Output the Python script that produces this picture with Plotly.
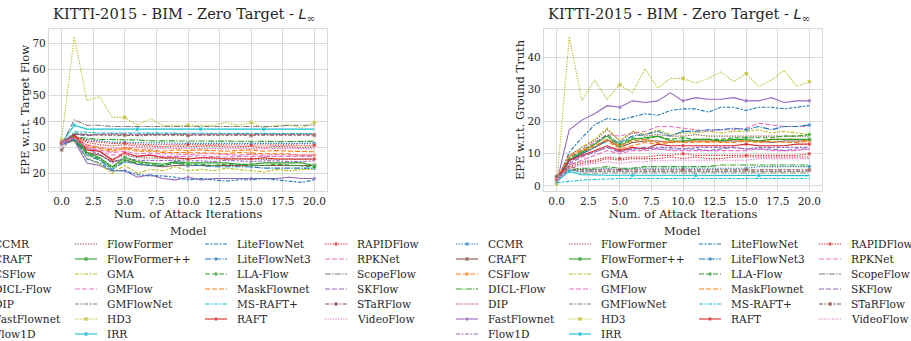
import plotly.graph_objects as go

iterations = list(range(21))

models = ["CCMR", "CRAFT", "CSFlow", "DICL-Flow", "DIP", "FastFlownet", "Flow1D",
          "FlowFormer", "FlowFormer++", "GMA", "GMFlow", "GMFlowNet", "HD3", "IRR",
          "LiteFlowNet", "LiteFlowNet3", "LLA-Flow", "MaskFlownet", "MS-RAFT+", "RAFT",
          "RAPIDFlow", "RPKNet", "ScopeFlow", "SKFlow", "STaRFlow", "VideoFlow"]

# EPE w.r.t. target flow (left panel)
epe_target = {
    "CCMR":        [31, 33.5, 33, 32.5, 32, 32, 31.8, 31.7, 31.7, 31.5, 31.5, 31.5, 31.5, 31.5, 31.5, 31.5, 31.5, 31.5, 31.5, 31.5, 31.5],
    "CRAFT":       [31.5, 33, 28, 27, 24.5, 25.5, 23.5, 23, 22.5, 23, 23, 23, 23, 23, 23, 23, 23, 23, 22.8, 22.8, 23],
    "CSFlow":      [32, 34.5, 30.5, 29.5, 28.5, 29.5, 28.5, 28.5, 28, 28, 28, 27.8, 27.8, 27.5, 28, 27.8, 27.5, 27.5, 27.5, 27, 27],
    "DICL-Flow":   [31.5, 34, 33.5, 33, 33, 33, 32.8, 32.5, 32.5, 32.5, 32.5, 32.3, 32.5, 32.5, 32.3, 32.3, 32.3, 32.2, 32.3, 32.2, 32.3],
    "DIP":         [32, 34.5, 32, 31, 30.5, 31, 30.5, 30.5, 30.2, 30.5, 30.3, 30.3, 30.5, 30.2, 30.3, 30.3, 30, 30.3, 30.2, 30, 30.2],
    "FastFlownet": [31, 32.5, 24, 23, 21, 21, 18.5, 19.5, 18, 17.5, 18.5, 17.5, 18, 18, 18, 18, 18, 18, 18.5, 18, 18],
    "Flow1D":      [31.5, 33.5, 29, 27.5, 24, 26, 25, 25, 24.8, 25, 25, 24.8, 24.5, 25, 24.8, 24.5, 24.8, 24.8, 24.5, 24.5, 24.8],
    "FlowFormer":  [32, 34, 29.5, 28.5, 25.5, 27, 26, 26, 25.8, 25.5, 25.5, 26, 25.5, 25.5, 25.8, 25.5, 25.3, 25.5, 25.3, 25.3, 25.5],
    "FlowFormer++":[32, 34.5, 28, 26, 22.5, 26, 24.5, 24, 23.5, 24.5, 24, 24, 24, 24, 23.5, 23.5, 24, 24, 24, 24, 23],
    "GMA":         [31.5, 32.5, 26, 23.5, 20, 23, 20, 21.5, 21, 22.5, 21, 21.5, 21, 22, 21.5, 21, 20.5, 21.5, 21, 21.5, 21.5],
    "GMFlow":      [31.5, 34, 30, 28.5, 27, 27.5, 26.5, 27, 26.5, 26.5, 26.5, 26.8, 26.5, 26.2, 26.5, 26.5, 26.3, 26.5, 26.3, 26.5, 26.5],
    "GMFlowNet":   [31, 35.5, 35, 35, 35, 35, 35, 35, 35, 35, 35, 35, 35, 35, 35, 35, 35, 35, 35, 35, 35.2],
    "HD3":         [33, 72.5, 48, 49.5, 41.5, 41.5, 38.5, 41, 38.5, 38.5, 38.5, 38.5, 38.5, 39.5, 38.5, 39.5, 37.5, 38.5, 38.5, 37.5, 39.5],
    "IRR":         [31.5, 38.5, 37, 37, 37, 37, 37, 37, 37, 37, 37, 37, 37, 37, 37, 37, 37, 37, 37, 37, 37],
    "LiteFlowNet": [31, 33, 25.5, 24, 21, 21, 19.5, 19, 19, 18.5, 17.5, 18, 17.5, 17, 17.5, 17.5, 18, 17.5, 17, 16.5, 17.5],
    "LiteFlowNet3":[31.5, 33, 27, 25, 21.5, 24.5, 23.5, 23, 23, 24, 23, 23, 22.5, 22.5, 22.5, 22.5, 22, 22, 22, 22, 22],
    "LLA-Flow":    [32, 33.5, 27.5, 25.5, 22, 25, 24, 23.5, 23, 24, 23.5, 23.5, 23, 23.5, 23.5, 23.2, 23, 23.5, 23.2, 23, 22.5],
    "MaskFlownet": [32, 34, 31, 30, 29, 30, 29, 29, 28.5, 29, 28.8, 29, 28.8, 28.5, 28.8, 29, 28.5, 28.8, 28.5, 28.5, 28.3],
    "MS-RAFT+":    [31, 36, 35.8, 35.5, 35.5, 35.5, 35.5, 35.5, 35.5, 35.5, 35.5, 35.3, 35.5, 35.5, 35.5, 35.5, 35.5, 35.5, 35.3, 35.5, 35.3],
    "RAFT":        [32, 35, 29, 28.5, 25, 28, 26.5, 27, 26, 26, 25.5, 26, 26, 25.5, 25.5, 25.5, 26, 25.5, 25.5, 25.5, 25.5],
    "RAPIDFlow":   [31.5, 34, 32.5, 32, 31.5, 31.5, 31.2, 31, 31, 31, 31, 31, 30.8, 31, 31, 30.8, 31, 31, 30.8, 31, 30.8],
    "RPKNet":      [32, 33.5, 30, 29, 28, 28.5, 27.5, 27.8, 27.5, 27.5, 27.2, 27.5, 27.5, 27.2, 27, 27.3, 27, 27.2, 27, 27, 27],
    "ScopeFlow":   [31, 40.5, 38.5, 38.5, 38, 38, 38, 38, 38, 38, 38, 38, 38, 38, 38, 38, 38, 38, 38.5, 38.5, 38.5],
    "SKFlow":      [31.5, 35, 34.5, 35, 35.2, 35, 35, 35, 35, 35, 35, 35, 35, 35, 35, 35, 35, 35, 35, 35, 35],
    "STaRFlow":    [29, 35, 34.8, 34.7, 34.7, 34.7, 34.5, 34.7, 34.7, 34.7, 34.5, 34.7, 34.7, 34.7, 34.7, 34.5, 34.7, 34.7, 34.7, 34.7, 34.7],
    "VideoFlow":   [31.5, 33.5, 31, 30, 29.5, 30, 29.8, 29.6, 29.5, 29.6, 29.5, 29.6, 29.5, 29.5, 29.5, 29.5, 29.5, 29.5, 29.5, 29.5, 29.5],
}

# EPE w.r.t. ground truth (right panel)
epe_gt = {
    "CCMR":        [1, 5, 5, 5, 5.5, 5, 5.5, 5.5, 5.5, 5.5, 5.5, 5.5, 5.5, 5.5, 5.5, 5.5, 6, 6, 6, 6, 6],
    "CRAFT":       [2.5, 8, 10, 12, 14.5, 12, 13.5, 14, 14, 13.5, 14, 14, 14, 14, 14, 14, 14, 13.5, 14, 14, 14],
    "CSFlow":      [2, 9, 10.5, 12, 14, 11.5, 12.5, 13.5, 13, 13.5, 14, 14, 13.5, 14, 14.5, 14, 14, 14.5, 14.5, 14.5, 14],
    "DICL-Flow":   [1.5, 5, 5.5, 5.5, 6, 5.5, 5.5, 6, 6, 6, 6, 6, 6, 6.5, 6.5, 6.5, 6.5, 6.5, 6.5, 6.5, 6.5],
    "DIP":         [2, 6, 7, 7.5, 8.5, 8, 8.5, 8.5, 8.5, 9, 8.5, 9, 8.5, 8.5, 9, 9, 9, 9, 9, 9, 9],
    "FastFlownet": [1, 17.5, 20.5, 22.5, 25, 24.5, 26.5, 26, 26.5, 29, 26.5, 27.5, 27, 27, 27.5, 26.5, 26.5, 27.5, 26, 26.5, 26.5],
    "Flow1D":      [1.5, 7.5, 9.5, 10.5, 12, 11, 11.5, 11.5, 12, 12, 11.5, 12, 12, 12, 12, 11.5, 12, 12, 12, 12, 12],
    "FlowFormer":  [2, 9.5, 12, 14, 17.5, 14, 16.5, 15.5, 16, 15.5, 15.5, 16, 15.5, 15.5, 15.5, 15.5, 15.5, 15.5, 15.5, 15.5, 15.5],
    "FlowFormer++":[2, 8, 10.5, 13, 15.5, 12.5, 14.5, 15, 15.5, 14, 14, 14.5, 14.5, 14, 14.5, 14.5, 14, 14.5, 14.5, 14.5, 14.5],
    "GMA":         [1.5, 9, 12, 14.5, 18, 14, 17, 16, 17.5, 16, 16.5, 16.5, 17, 16.5, 17, 17, 17.5, 16.5, 17, 16.5, 16],
    "GMFlow":      [2, 9, 11.5, 13.5, 16, 15.5, 16.5, 17, 18.5, 18.5, 18, 17.5, 17, 17.5, 17.5, 18, 19.5, 19, 18.5, 18.5, 18.5],
    "GMFlowNet":   [2, 5, 4.5, 4.5, 4.5, 4.5, 4.5, 4.5, 4.5, 4.5, 4.5, 4.5, 4.5, 4.5, 4.5, 4.5, 4.5, 4.5, 4.5, 4.5, 4.5],
    "HD3":         [0.6, 46.5, 26.5, 33, 27, 31.5, 29, 36.5, 30.5, 33.5, 33.5, 32, 33.5, 35.5, 32.5, 35, 31, 33, 36, 31, 32.5],
    "IRR":         [1.5, 4.5, 3.5, 3.3, 3.3, 3.3, 3.3, 3.3, 3.3, 3.3, 3.2, 3.2, 3.2, 3.2, 3.2, 3.2, 3.2, 3.2, 3.2, 3.2, 3.2],
    "LiteFlowNet": [1, 10.5, 15, 19, 21, 20.5, 21.5, 22.5, 22, 23.5, 24, 24, 23, 24.5, 24.5, 23.5, 24.5, 24.5, 24, 24.5, 25],
    "LiteFlowNet3":[1.5, 8, 10, 12, 14, 13.5, 15.5, 16, 17, 15.5, 17, 17, 17.5, 17.5, 18, 17.5, 18.5, 17.5, 18.5, 18.5, 19],
    "LLA-Flow":    [2, 8.5, 11, 13, 16, 13, 15, 14.5, 15.5, 14.5, 15, 14.5, 14.5, 14.5, 15, 15, 15, 15, 15.5, 15.5, 16],
    "MaskFlownet": [2, 9.5, 11, 12.5, 14.5, 12.5, 14, 14.5, 13.5, 14, 13.5, 13.5, 14, 13.5, 13.5, 14, 13.5, 14, 13.5, 13.5, 14],
    "MS-RAFT+":    [1, 1.5, 1.8, 2, 2.2, 2.3, 2.3, 2.3, 2.3, 2.3, 2.3, 2.3, 2.3, 2.3, 2.3, 2.3, 2.3, 2.3, 2.3, 2.3, 2.3],
    "RAFT":        [2, 8, 9.5, 11, 12.5, 11, 12, 11.5, 13, 12.5, 12.5, 12.5, 12.5, 12.5, 12.5, 13, 12.5, 12.5, 12.5, 13, 13],
    "RAPIDFlow":   [2.5, 6.5, 7.5, 8, 9, 8.5, 9, 9, 9.5, 9.5, 10, 9.5, 9.5, 9.5, 9.5, 9.5, 9.5, 9.5, 9.5, 9.5, 10],
    "RPKNet":      [2, 6.5, 8, 9.5, 11, 10, 11, 11, 11.5, 11, 11, 11, 11, 11, 11, 11, 11.5, 11, 11, 11, 11.5],
    "ScopeFlow":   [2.5, 5.5, 4, 4, 4, 4, 4, 4, 4, 4, 4, 4, 4, 4, 4, 4, 4, 4, 4, 4, 4],
    "SKFlow":      [1.5, 7, 9, 10.5, 12, 10.5, 11.5, 12, 11.5, 11.5, 11.5, 11.5, 11, 11.5, 12, 11.5, 11.5, 11.5, 11, 11.5, 11.5],
    "STaRFlow":    [3, 6, 5, 5, 5, 5, 5, 5, 5, 5, 5, 5, 5, 5, 5, 5, 5, 5, 5, 5, 5],
    "VideoFlow":   [1.5, 5.5, 6.5, 7, 7.5, 7, 7.5, 7.5, 8, 8, 8, 8, 8, 8, 8, 8, 8.5, 8.5, 8.5, 8.5, 8.5],
}

x_ticks = [0, 2.5, 5, 7.5, 10, 12.5, 15, 17.5, 20]
x_tick_labels = ["0.0", "2.5", "5.0", "7.5", "10.0", "12.5", "15.0", "17.5", "20.0"]

# ---- styles ----
C = {"blue": "#1f77b4", "orange": "#ff7f0e", "green": "#2ca02c", "red": "#d62728",
     "purple": "#9467bd", "brown": "#8c564b", "pink": "#e377c2", "gray": "#7f7f7f",
     "olive": "#bcbd22", "cyan": "#17becf"}
SOLID, DASH, DOT, DASHDOT, LDASHDOT = "solid", "5px,2px", "1.3px,1.3px", "4px,1.5px,2px,1.5px", "6px,1.3px,1.3px,1.3px"
# model -> (color, dash, marker symbol or None, marker offset)
style = {
    "CCMR": (C["blue"], DOT, "circle", 0), "CRAFT": (C["brown"], SOLID, "square", 0),
    "CSFlow": (C["orange"], DASH, "circle", 0), "DICL-Flow": (C["green"], LDASHDOT, None, 0),
    "DIP": (C["red"], DOT, None, 0), "FastFlownet": (C["purple"], SOLID, "circle", 0),
    "Flow1D": (C["purple"], DASHDOT, None, 0), "FlowFormer": (C["brown"], DOT, None, 0),
    "FlowFormer++": (C["green"], SOLID, "square", 0), "GMA": (C["olive"], DASHDOT, None, 0),
    "GMFlow": (C["pink"], DASH, None, 0), "GMFlowNet": (C["gray"], DASHDOT, None, 0),
    "HD3": (C["olive"], DOT, "square", 0), "IRR": (C["cyan"], SOLID, "square", 1),
    "LiteFlowNet": (C["blue"], DASHDOT, None, 0), "LiteFlowNet3": (C["blue"], LDASHDOT, "circle", 0),
    "LLA-Flow": (C["green"], DASH, "circle", 0), "MaskFlownet": (C["orange"], DASH, None, 0),
    "MS-RAFT+": (C["cyan"], DASHDOT, None, 0), "RAFT": (C["red"], SOLID, "circle", 0),
    "RAPIDFlow": (C["red"], DOT, "circle", 0), "RPKNet": (C["pink"], DASH, None, 0),
    "ScopeFlow": (C["gray"], LDASHDOT, None, 0), "SKFlow": (C["purple"], DASH, None, 0),
    "STaRFlow": (C["brown"], DASHDOT, "square", 0), "VideoFlow": (C["pink"], DOT, None, 0),
}

W, H = 911, 341
FONT = "DejaVu Serif"
TXT = "#262626"
GRID = "#d9d9d9"

def px(x):
    return x / W

def py(y):
    return 1 - y / H

fig = go.Figure()

for m in models:
    col, dash, sym, off = style[m]
    for data, xa, ya in ((epe_target, "x", "y"), (epe_gt, "x2", "y2")):
        sizes = [4 if (sym and (i - off) % 5 == 0) else 0 for i in iterations]
        fig.add_trace(go.Scatter(
            x=iterations, y=data[m], xaxis=xa, yaxis=ya, name=m, showlegend=False,
            mode="lines+markers" if sym else "lines",
            line=dict(color=col, width=1.1, dash=dash),
            marker=dict(symbol=sym or "circle", size=sizes, color=col,
                        line=dict(color="white", width=0.5)),
        ))

# ---- manual legends (column-major, 7 rows) ----
legend_rows_y = [244 + 15 * r for r in range(7)]
left_text_x = [-8, 105, 235, 355]
right_text_x = [486, 599, 729, 849]
annotations = []
for text_xs in (left_text_x, right_text_x):
    for idx, m in enumerate(models):
        c = 0 if idx < 7 else (1 if idx < 14 else (2 if idx < 20 else 3))
        r = idx if idx < 7 else (idx - 7 if idx < 14 else (idx - 14 if idx < 20 else idx - 20))
        tx, ty = text_xs[c], legend_rows_y[r]
        col, dash, sym, off = style[m]
        fig.add_trace(go.Scatter(
            x=[tx - 30, tx - 19, tx - 8], y=[ty, ty, ty], xaxis="x3", yaxis="y3",
            showlegend=False, hoverinfo="skip",
            mode="lines+markers" if sym else "lines",
            line=dict(color=col, width=1.1, dash=dash),
            marker=dict(symbol=sym or "circle", size=[0, 4 if sym else 0, 0], color=col,
                        line=dict(color="white", width=0.5)),
        ))
        annotations.append(dict(text=m, x=px(tx), y=py(ty), xref="paper", yref="paper",
                                xanchor="left", yanchor="middle", showarrow=False,
                                font=dict(family=FONT, size=10.6, color=TXT)))

for cx in (188, 682):
    annotations.append(dict(text="Model", x=px(cx), y=py(231), xref="paper", yref="paper",
                            xanchor="center", yanchor="middle", showarrow=False,
                            font=dict(family=FONT, size=11.5, color=TXT)))

title_txt = "KITTI-2015 - BIM - Zero Target - <span style='font-family:DejaVu Sans'><i>L</i></span><sub>∞</sub>"
for cx in (184, 679):
    annotations.append(dict(text=title_txt, x=px(cx), y=py(15), xref="paper", yref="paper",
                            xanchor="center", yanchor="middle", showarrow=False,
                            font=dict(family=FONT, size=14.6, color=TXT)))

axis_common = dict(showgrid=True, gridcolor=GRID, gridwidth=1, showline=True, linecolor=GRID,
                   linewidth=1.25, mirror=True, zeroline=False, ticks="",
                   tickfont=dict(family=FONT, size=10.5, color=TXT))
LBL = dict(family=FONT, size=11.5, color=TXT)

xdomL = [px(49), px(327)]
xdomR = [px(544), px(822)]
ydom = [py(191), py(29)]

fig.update_layout(
    width=W, height=H, margin=dict(l=0, r=0, t=0, b=0, autoexpand=False),
    paper_bgcolor="white", plot_bgcolor="rgba(0,0,0,0)", showlegend=False,
    annotations=annotations,
    xaxis=dict(domain=xdomL, range=[-1, 21], tickvals=x_ticks, ticktext=x_tick_labels,
               anchor="y", title=dict(text="Num. of Attack Iterations", standoff=2, font=LBL),
               **axis_common),
    yaxis=dict(domain=ydom, range=[13.2, 75.5], tickvals=[20, 30, 40, 50, 60, 70], anchor="x",
               title=dict(text="EPE w.r.t. Target Flow", standoff=0, font=LBL), **axis_common),
    xaxis2=dict(domain=xdomR, range=[-1, 21], tickvals=x_ticks, ticktext=x_tick_labels,
                anchor="y2", title=dict(text="Num. of Attack Iterations", standoff=2, font=LBL),
                **axis_common),
    yaxis2=dict(domain=ydom, range=[-1.6, 48.9], tickvals=[0, 10, 20, 30, 40], anchor="x2",
                title=dict(text="EPE w.r.t. Ground Truth", standoff=0, font=LBL), **axis_common),
    xaxis3=dict(domain=[0, 1], range=[0, W], visible=False, anchor="y3", fixedrange=True),
    yaxis3=dict(domain=[0, py(222)], range=[H, 222], visible=False, anchor="x3", fixedrange=True),
)

fig.write_html("out.html", config={"displayModeBar": False},
               post_script="document.body.style.margin='0';document.body.style.overflow='hidden';")
